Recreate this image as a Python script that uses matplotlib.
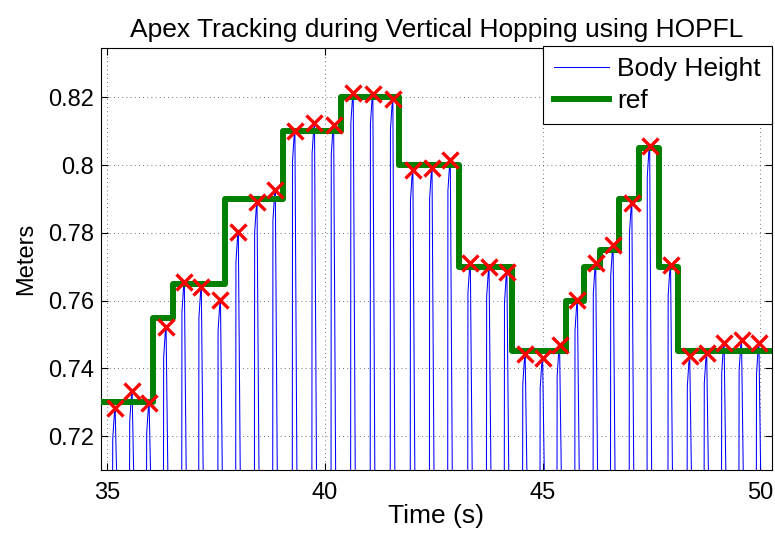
import numpy as np
import matplotlib
matplotlib.use("Agg")
import matplotlib.pyplot as plt

plt.rcParams['font.family'] = ['Liberation Sans', 'DejaVu Sans']

# Apex times (s) and apex heights (m) of each hop
apex_t = [35.18, 35.57, 35.96, 36.35, 36.77, 37.16, 37.60, 38.01, 38.44, 38.86,
          39.31, 39.76, 40.20, 40.65, 41.10, 41.56, 42.02, 42.46, 42.88, 43.34,
          43.77, 44.18, 44.60, 45.00, 45.39, 45.80, 46.22, 46.62, 47.05, 47.46,
          47.94, 48.38, 48.77, 49.17, 49.57, 49.97]
apex_h = [0.7282, 0.7333, 0.7298, 0.7522, 0.7656, 0.7640, 0.7601, 0.7803, 0.7890, 0.7927,
          0.8102, 0.8124, 0.8120, 0.8214, 0.8211, 0.8194, 0.7986, 0.7991, 0.8014, 0.7712,
          0.7700, 0.7684, 0.7442, 0.7432, 0.7468, 0.7602, 0.7710, 0.7763, 0.7888, 0.8057,
          0.7705, 0.7436, 0.7446, 0.7476, 0.7484, 0.7474]

# Apex height reference: switching times (s) and commanded levels (m)
ref_t = [34.50, 36.05, 36.51, 37.71, 39.03, 40.36, 41.71, 43.08, 44.30, 45.53,
         45.95, 46.33, 46.75, 47.21, 47.67, 48.10, 50.60]
ref_levels = [0.730, 0.755, 0.765, 0.790, 0.810, 0.820, 0.800, 0.770, 0.745, 0.760,
              0.770, 0.775, 0.790, 0.805, 0.770, 0.745, 0.745]

# Stance (compressed) body height between flight phases
stance_h = 0.70

# Body height trajectory: steep take-off, short ballistic cap, steep landing
body_t, body_h = [], []
for t, h in zip(apex_t, apex_h):
    body_t += [t - 0.060, t - 0.055, t - 0.020, t, t + 0.050]
    body_h += [stance_h, h - 0.009, h - 0.002, h, stance_h]

fig = plt.figure(figsize=(7.75, 5.35), dpi=100)
ax = fig.add_axes([0.1303, 0.1215, 0.8658, 0.7882])

ax.plot(body_t, body_h, color=(0, 0, 1), lw=0.75, label='Body Height', zorder=2)
ax.step(ref_t, ref_levels, where='post', color=(0, 0.5, 0), lw=4.3,
        label='ref', zorder=3)
ax.plot(apex_t, apex_h, linestyle='none', marker='x', color=(1, 0, 0),
        markersize=11, markeredgewidth=2.4, zorder=4)

ax.set_xlim(34.855, 50.27)
ax.set_ylim(0.71, 0.8345)
ax.set_xticks([35, 40, 45, 50])
ax.set_yticks([0.72, 0.74, 0.76, 0.78, 0.80, 0.82])
ax.set_yticklabels(['0.72', '0.74', '0.76', '0.78', '0.8', '0.82'])

ax.grid(True, color='black', linestyle=(0, (1, 4)), linewidth=0.6, alpha=0.7)
ax.tick_params(direction='in', length=5, width=0.8, top=True, right=True,
               labelsize=17)
ax.tick_params(axis='x', pad=9)
ax.tick_params(axis='y', pad=5)
for s in ax.spines.values():
    s.set_linewidth(0.8)

ax.set_title('Apex Tracking during Vertical Hopping using HOPFL', fontsize=19, pad=8)
ax.set_xlabel('Time (s)', fontsize=19, labelpad=0)
ax.set_ylabel('Meters', fontsize=17, labelpad=8)

leg = ax.legend(loc='upper right', fontsize=19, fancybox=False, framealpha=1,
                edgecolor='black', borderaxespad=0.0, handlelength=2.1,
                borderpad=0.42, labelspacing=0.3, handletextpad=0.3,
                bbox_to_anchor=(1.0, 1.005))
leg.get_frame().set_linewidth(0.8)

fig.savefig('out.png', dpi=100)
